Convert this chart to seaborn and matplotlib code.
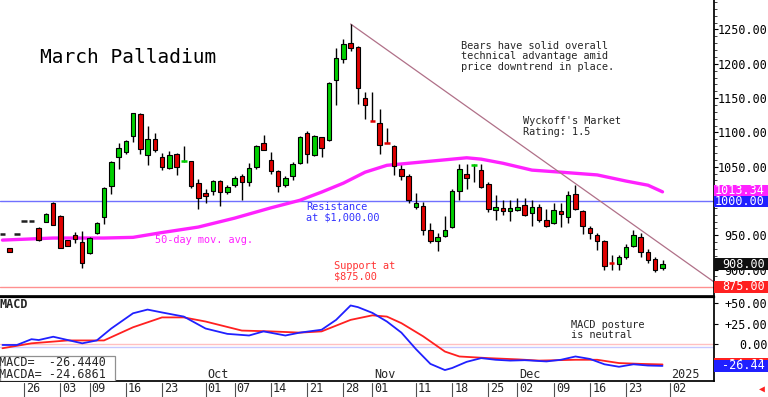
import numpy as np
import pandas as pd
import matplotlib
matplotlib.use('Agg')
import matplotlib.pyplot as plt
import matplotlib.transforms as mtransforms
from matplotlib.patches import Rectangle
import seaborn as sns

# --- Data ---
# daily OHLC, one entry per trading day from 2024-08-21 to 2024-12-31
opens = [952, 931, 952, 971, 971, 961, 970, 997, 978, 943,
         950, 940, 924, 953, 977, 1022, 1064, 1071, 1095, 1127,
         1067, 1090, 1064, 1048, 1069, 1058, 1058, 1026, 1012, 1014,
         1029, 1013, 1023, 1037, 1027, 1049, 1085, 1060, 1043, 1023,
         1037, 1055, 1099, 1067, 1093, 1089, 1176, 1207, 1231, 1225,
         1150, 1118, 1113, 1086, 1080, 1047, 1037, 991, 992, 958,
         942, 949, 962, 1014, 1040, 1051, 1045, 1025, 987, 990,
         986, 987, 994, 982, 991, 973, 968, 986, 977, 1010,
         986, 961, 950, 941, 911, 908, 919, 934, 947, 926,
         916, 902]
highs = [952, 931, 952, 971, 971, 962, 982, 999, 979, 943,
         955, 956, 947, 969, 1020, 1058, 1084, 1089, 1129, 1128,
         1109, 1099, 1070, 1073, 1070, 1080, 1059, 1032, 1018, 1031,
         1030, 1023, 1037, 1039, 1055, 1081, 1096, 1071, 1045, 1036,
         1057, 1095, 1102, 1096, 1094, 1174, 1223, 1236, 1258, 1226,
         1159, 1159, 1134, 1106, 1082, 1052, 1040, 1011, 999, 968,
         954, 978, 1018, 1054, 1054, 1054, 1054, 1027, 1009, 1001,
         1002, 1005, 1005, 1002, 995, 988, 997, 997, 1014, 1023,
         987, 964, 953, 943, 921, 921, 938, 957, 954, 930,
         919, 914]
lows = [952, 926, 952, 971, 971, 942, 969, 965, 931, 935,
        939, 903, 922, 952, 966, 1010, 1046, 1069, 1086, 1069,
        1052, 1072, 1045, 1046, 1038, 1057, 1019, 988, 997, 1009,
        992, 1010, 1020, 1002, 1022, 1047, 1074, 1039, 1013, 1021,
        1031, 1054, 1056, 1066, 1064, 1088, 1140, 1201, 1218, 1142,
        1119, 1116, 1068, 1084, 1038, 1031, 997, 989, 950, 939,
        927, 948, 960, 1001, 1017, 1028, 1019, 984, 972, 980,
        971, 985, 978, 963, 970, 962, 966, 962, 968, 987,
        952, 945, 929, 900, 899, 899, 915, 933, 919, 909,
        897, 899]
closes = [952, 926, 952, 971, 971, 943, 981, 965, 932, 935,
          944, 909, 946, 968, 1019, 1057, 1077, 1087, 1128, 1076,
          1091, 1075, 1049, 1067, 1050, 1059, 1022, 1005, 1008, 1029,
          1013, 1020, 1033, 1028, 1048, 1080, 1075, 1044, 1022, 1034,
          1054, 1093, 1068, 1095, 1077, 1172, 1208, 1229, 1223, 1164,
          1140, 1117, 1082, 1085, 1051, 1036, 1001, 997, 958, 941,
          948, 957, 1014, 1046, 1033, 1052, 1021, 989, 991, 986,
          990, 991, 980, 991, 972, 964, 987, 981, 1009, 989,
          964, 953, 941, 905, 910, 918, 933, 950, 926, 914,
          899, 908]

# 50-day moving average, sampled along the line (trading-day number, price)
ma_day = [0, 7, 14, 18, 22, 27, 32, 37, 41, 44, 47, 50, 53, 59, 64, 66, 69, 73, 77, 82, 86, 89, 91]
ma_val = [943, 946, 946, 947, 954, 962, 975, 990, 1001, 1013, 1026, 1042, 1052, 1058,
          1063, 1061, 1055, 1045, 1042, 1038, 1029, 1023, 1013.34]

# MACD and its signal line (MACDA)
macd_day = [0, 2, 4, 5, 7, 9, 11, 13, 15, 18, 20, 22, 25, 28, 31, 34, 36, 39, 41, 44, 46,
            48, 49, 51, 53, 55, 57, 59, 61, 62, 64, 66, 68, 70, 72, 75, 77, 79, 81, 83,
            85, 87, 89, 91]
macd_val = [-1, -1, 6, 5, 9, 5, 1, 4.5, 19, 37.5, 42, 38.5, 33.5, 19, 12.5, 10.5, 15.5, 10.5,
            14, 17.5, 29.5, 47, 45, 38, 27.5, 14, -6, -24, -31.5, -29, -21.5, -17, -19, -20,
            -19.5, -21, -19, -15, -18, -24.5, -27.5, -24.5, -26, -26.444]
sig_day = [0, 4, 9, 14, 18, 22, 25, 28, 33, 37, 41, 44, 48, 51, 53, 55, 58, 61, 63, 67,
           71, 74, 79, 82, 85, 88, 91]
sig_val = [-5, 1, 4.5, 4.5, 20.5, 32.5, 32.5, 27.5, 16.5, 15.5, 14, 15.5, 29.5, 35, 33.5,
           25.5, 9.5, -9, -15, -17, -18.5, -20, -19, -19, -23, -24, -24.6861]

resistance = 1000.0
support = 875.0
trend_day = [48, 98.1]
trend_price = [1258, 882]

price_ticks = [900, 950, 1000, 1050, 1100, 1150, 1200, 1250]
macd_ticks = [50, 25, 0]
date_ticks = ['2024-08-26', '2024-09-03', '2024-09-09', '2024-09-16', '2024-09-23',
              '2024-10-01', '2024-10-07', '2024-10-14', '2024-10-21', '2024-10-28',
              '2024-11-01', '2024-11-11', '2024-11-18', '2024-11-25', '2024-12-02',
              '2024-12-09', '2024-12-16', '2024-12-23', '2025-01-02']
month_labels = ['Oct', 'Nov', 'Dec', '2025']
month_dates = ['2024-10-01', '2024-11-01', '2024-12-02', '2025-01-02']

# --- Style ---
sns.set_theme(style='white')
plt.rcParams['font.family'] = ['DejaVu Sans Mono', 'DejaVu Sans']
GREEN = '#00d000'
RED = '#e00000'
BLUE = '#2020ff'
MAGENTA = '#ff22ff'

# trading calendar -> day numbers
cal = pd.bdate_range('2024-08-21', '2025-01-10')
cal = cal.drop(pd.to_datetime(['2024-09-02', '2024-11-28', '2024-12-25', '2025-01-01']))
def day_of(s):
    return cal.get_loc(pd.Timestamp(s))

fig = plt.figure(figsize=(7.68, 3.97), dpi=100)
ax = fig.add_axes([0, 1 - 296 / 397, 714 / 768, 296 / 397])
ax2 = fig.add_axes([0, 1 - 381 / 397, 714 / 768, 84 / 397])
XL = (-0.34, 98.1)

# --- Price panel ---
o, h, l, c = (np.array(a, dtype=float) for a in (opens, highs, lows, closes))
day = np.arange(len(c))
flat = np.abs(c - o) < 2
ax.vlines(day, l, h, colors='black', lw=1, zorder=2)
body_col = np.where(c > o, GREEN, RED)
ax.bar(day[~flat], (c - o)[~flat], bottom=o[~flat], width=0.62, color=body_col[~flat],
       edgecolor='black', linewidth=0.8, zorder=3)
dash_col = np.where(c == o, '#202020', np.where(c > o, GREEN, RED))
ax.hlines(c[flat], day[flat] - 0.38, day[flat] + 0.38, colors=dash_col[flat], lw=1.8, zorder=3)

sns.lineplot(x=ma_day, y=ma_val, ax=ax, color=MAGENTA, lw=2.4, zorder=1)
ax.axhline(resistance, color='#7070ff', lw=1, zorder=0)
ax.axhline(support, color='#ff9090', lw=1, zorder=0)
ax.plot(trend_day, trend_price, color='#b07088', lw=0.9, zorder=1)

ax.set_xlim(*XL)
ax.set_ylim(861.5, 1293)
ax.set_xticks([])
ax.yaxis.tick_right()
ax.set_yticks(price_ticks)
ax.set_yticklabels([f'{v:.2f}' for v in price_ticks])
ax.set_yticks(np.arange(870, 1291, 10), minor=True)
ax.tick_params(axis='y', which='major', direction='out', length=3, width=0.8, pad=35.5,
               labelsize=8.5, colors='black')
ax.tick_params(axis='y', which='minor', direction='out', length=2, width=0.6, right=True)
for lbl in ax.get_yticklabels():
    lbl.set_horizontalalignment('right')
for s in ['top', 'left']:
    ax.spines[s].set_visible(False)
ax.spines['right'].set_color('black')
ax.spines['bottom'].set_color('black')
ax.spines['bottom'].set_linewidth(1.2)
ax.set_xlabel('')
ax.set_ylabel('')

def value_box(a, y, text, face, hgt, z=6):
    tr = mtransforms.blended_transform_factory(a.transAxes, a.transData)
    a.add_patch(Rectangle((1.0, y - hgt / 2), 0.0756, hgt, transform=tr, facecolor=face,
                          edgecolor='none', clip_on=False, zorder=z))
    a.text(765 / 714, y, text, transform=tr, ha='right', va='center', color='white',
           fontsize=8.5, clip_on=False, zorder=z + 0.5)

value_box(ax, 1015.5, f'{ma_val[-1]:.2f}', MAGENTA, 15)
value_box(ax, 999.5, f'{resistance:.2f}', BLUE, 16)
value_box(ax, closes[-1], f'{closes[-1]:.2f}', '#101010', 17)
value_box(ax, support, f'{support:.2f}', '#ff2020', 17)

ax.text(40 / 714, 0.806, 'March Palladium', transform=ax.transAxes, fontsize=14,
        ha='left', va='center', color='black')
ax.text(461 / 714, 0.862, 'Bears have solid overall\ntechnical advantage amid\nprice downtrend in place.',
        transform=ax.transAxes, fontsize=7.4, ha='left', va='top', linespacing=1.05)
ax.text(523 / 714, 0.607, "Wyckoff's Market\nRating: 1.5", transform=ax.transAxes,
        fontsize=7.4, ha='left', va='top', linespacing=1.05)
ax.text(306 / 714, 0.317, 'Resistance\nat $1,000.00', transform=ax.transAxes, fontsize=7.4,
        ha='left', va='top', color='#3333ff', linespacing=1.05)
ax.text(155 / 714, 0.189, '50-day mov. avg.', transform=ax.transAxes, fontsize=7.4,
        ha='left', va='center', color=MAGENTA)
ax.text(334 / 714, 0.118, 'Support at\n$875.00', transform=ax.transAxes, fontsize=7.4,
        ha='left', va='top', color='#ff3333', linespacing=1.05)

# --- MACD panel ---
ax2.axhline(0, color='#ffc0c0', lw=1, zorder=0)
ax2.axhline(-3.7, color='#c8c8ff', lw=1, zorder=0)
sns.lineplot(x=sig_day, y=sig_val, ax=ax2, color='#ff2020', lw=1.3, zorder=2)
sns.lineplot(x=macd_day, y=macd_val, ax=ax2, color=BLUE, lw=1.3, zorder=3)
ax2.set_xlim(*XL)
ax2.set_ylim(-44.8, 57.3)
ax2.set_xticks([])
ax2.yaxis.tick_right()
ax2.set_yticks(macd_ticks)
ax2.set_yticklabels(['+50.00', '+25.00', '0.00'])
ax2.tick_params(axis='y', direction='out', length=3, width=0.8, pad=35.5, labelsize=8.5,
                colors='black')
for lbl in ax2.get_yticklabels():
    lbl.set_horizontalalignment('right')
ax2.spines['left'].set_visible(False)
ax2.spines['top'].set_linewidth(1.6)
for s in ['top', 'bottom', 'right']:
    ax2.spines[s].set_color('black')
ax2.set_xlabel('')
ax2.set_ylabel('')

# MACDA box sits mostly behind the MACD box, as in the source chart
value_box(ax2, macd_val[-1] + 1.8, f'{sig_val[-1]:.2f}', '#ff2020', 15, z=5)
value_box(ax2, macd_val[-1], f'{macd_val[-1]:.2f}', BLUE, 15, z=6)

ax2.text(0.0, 0.905, 'MACD', transform=ax2.transAxes, fontsize=8.5, fontweight='bold',
         ha='left', va='center')
ax2.text(571 / 714, 0.73, 'MACD posture\nis neutral', transform=ax2.transAxes, fontsize=7.4,
         ha='left', va='top', linespacing=1.05)
ax2.add_patch(Rectangle((0, 0), 115 / 714, 0.298, transform=ax2.transAxes, facecolor='white',
                        edgecolor='#909090', lw=0.9, zorder=4))
ax2.text(-0.002, 0.226, f'MACD=  {macd_val[-1]:.4f}', transform=ax2.transAxes, fontsize=8.5,
         ha='left', va='center', zorder=5)
ax2.text(-0.002, 0.083, f'MACDA= {sig_val[-1]:.4f}', transform=ax2.transAxes, fontsize=8.5,
         ha='left', va='center', zorder=5)

trx = mtransforms.blended_transform_factory(ax2.transData, ax2.transAxes)
for d in date_ticks:
    x = day_of(d)
    ax2.plot([x, x], [-0.02, -0.2], transform=trx, color='#505050', lw=0.8, clip_on=False)
    ax2.text(x + 0.3, -0.095, pd.Timestamp(d).strftime('%d'), transform=trx, fontsize=8.5,
             ha='left', va='center', clip_on=False)
for lab, d in zip(month_labels, month_dates):
    ax2.text(day_of(d) + 0.2, 0.075, lab, transform=trx, fontsize=8.5, ha='left', va='center')

fig.text(762 / 768, 1 - 389 / 397, '\u25c0', color='#ff2020', fontsize=7, ha='center',
         va='center')

fig.savefig('out.png', dpi=100, facecolor='white')
